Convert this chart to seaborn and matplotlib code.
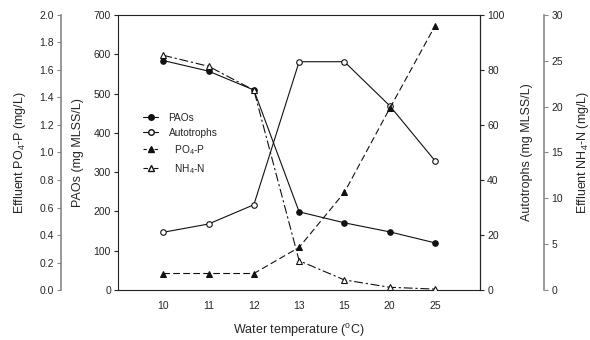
import matplotlib
matplotlib.use("Agg")
import matplotlib.pyplot as plt
import matplotlib.lines as mlines
import seaborn as sns
import pandas as pd
import numpy as np

temps = ["10", "11", "12", "13", "15", "20", "25"]
paos = [584, 557, 509, 199, 171, 148, 120]
autotrophs = [21, 24, 31, 83, 83, 67, 47]
po4_p = [0.12, 0.12, 0.12, 0.31, 0.71, 1.32, 1.92]
nh4_n = [25.6, 24.4, 21.8, 3.2, 1.1, 0.3, 0.1]

df = pd.DataFrame({"pos": np.arange(len(temps)), "temp": temps, "PAOs": paos,
                   "Autotrophs": autotrophs, "PO4": po4_p, "NH4": nh4_n})

sns.set_style("ticks")
plt.rcParams["font.family"] = ["Liberation Sans", "DejaVu Sans"]
plt.rcParams["mathtext.fontset"] = "custom"
plt.rcParams["mathtext.rm"] = "Liberation Sans"
plt.rcParams["mathtext.it"] = "Liberation Sans"

fig = plt.figure(figsize=(5.9, 3.4), dpi=100)
ax = fig.add_axes([0.2, 0.147, 0.614, 0.809])
ax_a = ax.twinx()
ax_p = ax.twinx()
ax_n = ax.twinx()

lc = "#111111"
lw = 0.8
ms = 4.0
sns.lineplot(data=df, x="pos", y="PAOs", ax=ax, color=lc, lw=lw, marker="o",
             markersize=ms, markerfacecolor=lc, markeredgecolor=lc)
sns.lineplot(data=df, x="pos", y="Autotrophs", ax=ax_a, color=lc, lw=lw, marker="o",
             markersize=ms, markerfacecolor="white", markeredgecolor=lc, markeredgewidth=0.8)
sns.lineplot(data=df, x="pos", y="PO4", ax=ax_p, color=lc, lw=lw, marker="^",
             markersize=ms, markerfacecolor=lc, markeredgecolor=lc, dashes=(6, 3))
sns.lineplot(data=df, x="pos", y="NH4", ax=ax_n, color=lc, lw=lw, marker="^",
             markersize=ms, markerfacecolor="white", markeredgecolor=lc, markeredgewidth=0.8,
             dashes=(8, 2.5, 2, 2.5))

tfs = 7.5
lfs = 9

# main axis
ax.set_xlim(-1, 7)
ax.set_ylim(0, 700)
ax.set_yticks(range(0, 701, 100))
ax.set_xticks(df["pos"])
ax.set_xticklabels(temps)
ax.set_xlabel("Water temperature ($^{\\rm o}$C)", fontsize=lfs, labelpad=8)
ax.set_ylabel("PAOs (mg MLSS/L)", fontsize=lfs, labelpad=7)
ax.tick_params(axis="x", length=0, labelsize=tfs, pad=8)
ax.tick_params(axis="y", length=3, width=0.8, labelsize=tfs, pad=2)
for s in ax.spines.values():
    s.set_linewidth(0.8)
    s.set_color("#222222")

# autotrophs axis
ax_a.set_ylim(0, 100)
ax_a.set_yticks(range(0, 101, 20))
ax_a.set_ylabel("Autotrophs (mg MLSS/L)", fontsize=lfs, labelpad=12)
ax_a.tick_params(axis="y", length=3, width=0.8, labelsize=tfs, pad=2)
for k in ["left", "top", "bottom"]:
    ax_a.spines[k].set_visible(False)
ax_a.spines["right"].set_linewidth(0.8)

# PO4 axis on outer left
ax_p.set_ylim(0, 2.0)
ax_p.set_yticks(np.arange(0, 2.01, 0.2))
ax_p.set_yticklabels([f"{v:.1f}" for v in np.arange(0, 2.01, 0.2)])
ax_p.yaxis.set_ticks_position("left")
ax_p.yaxis.set_label_position("left")
ax_p.spines["left"].set_visible(True)
ax_p.spines["left"].set_position(("axes", -0.157))
for k in ["right", "top", "bottom"]:
    ax_p.spines[k].set_visible(False)
ax_p.spines["left"].set_color("#888888")
ax_p.spines["left"].set_linewidth(1.2)
ax_p.tick_params(axis="y", length=3, width=0.8, color="#888888", labelsize=tfs, pad=2)
ax_p.set_ylabel("Effluent PO$_4$-P (mg/L)", fontsize=lfs, labelpad=8)

# NH4 axis on outer right
ax_n.set_ylim(0, 30)
ax_n.set_yticks(range(0, 31, 5))
ax_n.spines["right"].set_position(("axes", 1.177))
for k in ["left", "top", "bottom"]:
    ax_n.spines[k].set_visible(False)
ax_n.spines["right"].set_color("#888888")
ax_n.spines["right"].set_linewidth(1.2)
ax_n.tick_params(axis="y", length=3, width=0.8, color="#888888", labelsize=tfs, pad=2)
ax_n.set_ylabel("Effluent NH$_4$-N (mg/L)", fontsize=lfs, labelpad=9)

for a in (ax_a, ax_p, ax_n):
    a.set_xlim(-1, 7)

handles = [
    mlines.Line2D([], [], color=lc, lw=lw, marker="o", markersize=ms, markerfacecolor=lc),
    mlines.Line2D([], [], color=lc, lw=lw, marker="o", markersize=ms, markerfacecolor="white"),
    mlines.Line2D([], [], color=lc, lw=lw, marker="^", markersize=ms, markerfacecolor=lc, dashes=(3, 2)),
    mlines.Line2D([], [], color=lc, lw=lw, marker="^", markersize=ms, markerfacecolor="white", dashes=(4, 2, 1.5, 2)),
]
labels = ["PAOs", "Autotrophs", "  PO$_4$-P", "  NH$_4$-N"]
ax_n.legend(handles, labels, loc="upper left", bbox_to_anchor=(0.05, 0.67), frameon=False,
            fontsize=7.3, handlelength=1.5, handletextpad=1.0, labelspacing=0.5, borderpad=0.2)

fig.savefig("out.png", dpi=100)
